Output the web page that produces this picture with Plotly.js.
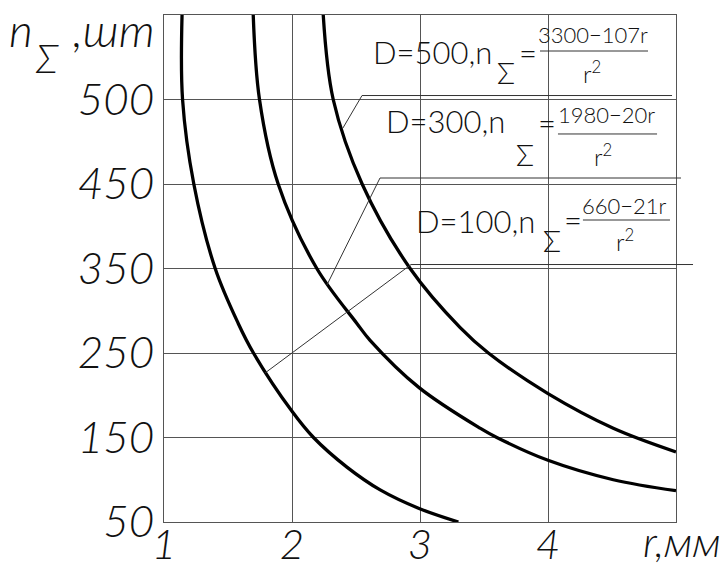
<!DOCTYPE html>
<html>
<head>
<meta charset="utf-8">
<script src="https://cdn.plot.ly/plotly-3.0.1.min.js"></script>
<style>html,body{margin:0;padding:0;background:#fff;}#chart{width:720px;height:567px;}</style>
</head>
<body>
<div id="chart"></div>
<script>
// ---- data ----
const xTickVals = [1, 2, 3, 4];
const xTickText = ['1', '2', '3', '4'];
const yTickVals = [50, 150, 250, 350, 450, 550];
const yTickText = ['50', '150', '250', '350', '450', '500'];

// D = 100
const r100 = [1.141, 1.145, 1.233, 1.400, 1.580, 1.699, 2.0, 2.168, 2.429, 2.689, 2.993, 3.30];
const n100 = [650, 550, 450, 350, 285, 250, 181, 150, 115, 88, 66, 50];
// D = 300
const r300 = [1.697, 1.746, 1.892, 2.194, 2.507, 2.610, 2.993, 3.469, 3.600, 4.0, 4.510, 5.0];
const n300 = [650, 550, 450, 350, 285, 265, 209, 161, 150, 123, 100, 87];
// D = 500
const r500 = [2.244, 2.322, 2.548, 2.923, 3.314, 3.534, 4.0, 4.51, 5.0];
const n500 = [650, 550, 450, 350, 280, 250, 202, 161, 133];

const labelHead = ['D=500,n', 'D=300,n', 'D=100,n'];
const labelSub = ['Σ', 'Σ', 'Σ'];
const labelEq = ['=', '=', '='];
const labelNum = ['3300−107r', '1980−20r', '660−21r'];
const labelDen = ['r<sup>2</sup>', 'r<sup>2</sup>', 'r<sup>2</sup>'];

// ---- label geometry (data units) ----
const headPos = [[3.578, 606.8], [3.680, 524.6], [3.914, 406.8]];
const subPos = [[3.672, 582.0], [3.820, 485.5], [4.035, 383.7]];
const eqPos = [[3.840, 605.0], [3.996, 522.2], [4.199, 407.4]];
const numPos = [[4.355, 627], [4.457, 532], [4.594, 425]];
const barPos = [[3.9375, 4.78125, 607.4], [4.078, 4.852, 509.2], [4.273, 4.953, 407.4]];
const denPos = [[4.344, 582.5], [4.43, 484.3], [4.602, 383.7]];
const leaderPts = [
  [[2.398, 516.3], [2.547, 554.7], [4.969, 554.7]],
  [[2.273, 330.5], [2.6875, 457.1], [5.039, 457.1]],
  [[1.789, 226.3], [2.93, 354.7], [5.133, 354.7]]
];

const X0 = 1, X1 = 5, Y0 = 50, Y1 = 650;
const px = x => (x - X0) / (X1 - X0);
const py = y => (y - Y0) / (Y1 - Y0);

const FONT = 'Lato, "DejaVu Sans", sans-serif';
const ink = '#111';
const grid = '#555';

const curve = (x, y, name) => ({
  x: x, y: y, name: name, type: 'scatter', mode: 'lines',
  line: {color: '#000', width: 3.3, shape: 'spline', smoothing: 1},
  hoverinfo: 'skip'
});

const data = [curve(r100, n100, 'D=100'), curve(r300, n300, 'D=300'), curve(r500, n500, 'D=500')];

const shapes = [];
const annotations = [];
const txt = (x, y, text, size, xanchor, italic, ref) => ({
  xref: ref || 'x', yref: ref || 'y', x: x, y: y, text: text, showarrow: false,
  xanchor: xanchor, yanchor: 'middle',
  font: {family: FONT, size: size, weight: 300, style: italic ? 'italic' : 'normal', color: ink}
});
for (let i = 0; i < 3; i++) {
  const p = leaderPts[i];
  shapes.push({type: 'line', xref: 'paper', yref: 'paper', x0: px(p[0][0]), y0: py(p[0][1]), x1: px(p[1][0]), y1: py(p[1][1]), line: {color: '#333', width: 1}});
  shapes.push({type: 'line', xref: 'paper', yref: 'paper', x0: px(p[1][0]), y0: py(p[1][1]), x1: px(p[2][0]), y1: py(p[2][1]), line: {color: '#333', width: 1}});
  const b = barPos[i];
  shapes.push({type: 'line', xref: 'x', yref: 'y', x0: b[0], y0: b[2], x1: b[1], y1: b[2], line: {color: '#333', width: 1}});
  annotations.push(txt(headPos[i][0], headPos[i][1], labelHead[i], 31, 'right'));
  annotations.push(txt(subPos[i][0], subPos[i][1], labelSub[i], 30, 'center'));
  annotations.push(txt(eqPos[i][0], eqPos[i][1], labelEq[i], 31, 'center'));
  annotations.push(txt(numPos[i][0], numPos[i][1], labelNum[i], 22, 'center'));
  annotations.push(txt(denPos[i][0], denPos[i][1], labelDen[i], 24, 'center'));
}
// axis titles (paper coordinates)
annotations.push(txt(-0.252, 0.972, 'n', 46, 'right', true, 'paper'));
annotations.push(txt(-0.229, 0.916, 'Σ', 40, 'center', true, 'paper'));
annotations.push(txt(-0.014, 0.972, ',шт', 46, 'right', true, 'paper'));
annotations.push(txt(0.932, -0.038, 'r,мм', 42, 'left', true, 'paper'));

const layout = {
  width: 720, height: 567,
  margin: {l: 164, r: 44, t: 15, b: 45},
  paper_bgcolor: '#fff', plot_bgcolor: '#fff',
  showlegend: false,
  font: {family: FONT, color: ink},
  xaxis: {
    range: [X0, X1], tickmode: 'array', tickvals: xTickVals, ticktext: xTickText,
    showgrid: true, gridcolor: grid, gridwidth: 1, zeroline: false,
    showline: true, mirror: true, linecolor: grid, linewidth: 1, ticks: '',
    ticklabelstandoff: -14,
    tickfont: {family: FONT, size: 42, weight: 300, style: 'italic', color: ink},
    fixedrange: true
  },
  yaxis: {
    range: [Y0, Y1], tickmode: 'array', tickvals: yTickVals, ticktext: yTickText,
    showgrid: true, gridcolor: grid, gridwidth: 1, zeroline: false,
    showline: true, mirror: true, linecolor: grid, linewidth: 1, ticks: '',
    tickfont: {family: FONT, size: 44, weight: 300, style: 'italic', color: ink},
    fixedrange: true
  },
  shapes: shapes,
  annotations: annotations
};

Plotly.newPlot('chart', data, layout, {displayModeBar: false, staticPlot: true});
</script>
</body>
</html>
